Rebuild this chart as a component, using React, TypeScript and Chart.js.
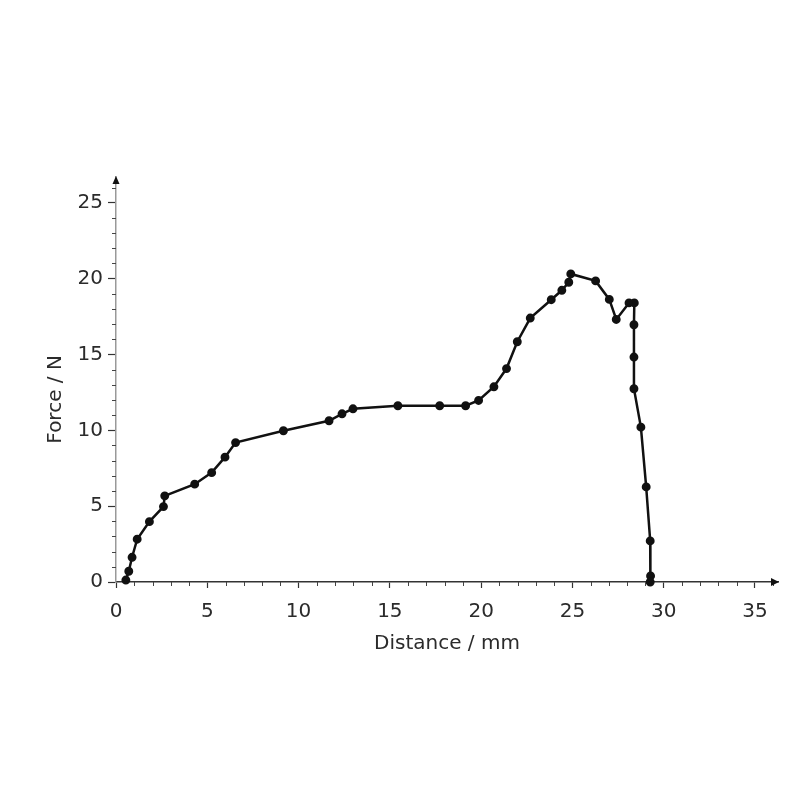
import React, { useEffect, useRef } from "react";
import { Chart, registerables } from "chart.js";

Chart.register(...registerables);

const distanceMm = [
  0.54, 0.7, 0.88, 1.16, 1.83, 2.6, 2.67, 4.31, 5.24, 5.97, 6.55, 9.17,
  11.67, 12.38, 12.98, 15.44, 17.73, 19.15, 19.86, 20.7, 21.39, 21.98, 22.69,
  23.84, 24.42, 24.8, 24.91, 26.27, 27.02, 27.4, 28.1, 28.39, 28.37, 28.37,
  28.37, 28.75, 29.04, 29.26, 29.28, 29.26,
];
const forceN = [
  0.13, 0.71, 1.63, 2.82, 3.98, 4.97, 5.68, 6.45, 7.21, 8.23, 9.19, 9.97,
  10.63, 11.09, 11.42, 11.62, 11.62, 11.62, 11.97, 12.87, 14.07, 15.84, 17.4,
  18.61, 19.23, 19.76, 20.31, 19.85, 18.63, 17.31, 18.4, 18.4, 16.96, 14.83,
  12.74, 10.21, 6.27, 2.71, 0.4, 0.0,
];

const xMajorTicks = [0, 5, 10, 15, 20, 25, 30, 35];
const yMajorTicks = [0, 5, 10, 15, 20, 25];
const xTitle = "Distance / mm";
const yTitle = "Force / N";

const FONT = "'DejaVu Sans', sans-serif";
const TEXT = "#2b2b2b";

const decorPlugin = {
  id: "decor",
  afterDraw(chart: any) {
    const { ctx, chartArea, scales } = chart;
    const xs = scales.x;
    const ys = scales.y;
    ctx.save();
    // minor ticks
    ctx.strokeStyle = "#444";
    ctx.lineWidth = 1;
    for (let v = 0; v <= 36; v++) {
      if (xMajorTicks.includes(v)) continue;
      const px = Math.round(xs.getPixelForValue(v)) + 0.5;
      ctx.beginPath();
      ctx.moveTo(px, chartArea.bottom);
      ctx.lineTo(px, chartArea.bottom + 4);
      ctx.stroke();
    }
    for (let v = 0; v <= 26; v++) {
      if (yMajorTicks.includes(v)) continue;
      const py = Math.round(ys.getPixelForValue(v)) + 0.5;
      ctx.beginPath();
      ctx.moveTo(chartArea.left - 4, py);
      ctx.lineTo(chartArea.left, py);
      ctx.stroke();
    }
    // arrows
    ctx.fillStyle = "#111";
    ctx.beginPath();
    ctx.moveTo(chartArea.left, chartArea.top - 1);
    ctx.lineTo(chartArea.left - 3.5, chartArea.top + 7);
    ctx.lineTo(chartArea.left + 3.5, chartArea.top + 7);
    ctx.closePath();
    ctx.fill();
    ctx.beginPath();
    ctx.moveTo(chartArea.right + 1, chartArea.bottom);
    ctx.lineTo(chartArea.right - 7, chartArea.bottom - 4);
    ctx.lineTo(chartArea.right - 7, chartArea.bottom + 4);
    ctx.closePath();
    ctx.fill();
    // y title
    const yMid = (ys.getPixelForValue(0) + ys.getPixelForValue(25)) / 2 + 7;
    ctx.translate(56, yMid);
    ctx.rotate(-Math.PI / 2);
    ctx.fillStyle = TEXT;
    ctx.font = `20px ${FONT}`;
    ctx.textAlign = "center";
    ctx.textBaseline = "middle";
    ctx.fillText(yTitle, 0, 0);
    ctx.restore();
  },
};

export default function App() {
  const canvasRef = useRef<HTMLCanvasElement | null>(null);

  useEffect(() => {
    if (!canvasRef.current) return;
    const data = distanceMm.map((x, i) => ({ x, y: forceN[i] }));
    const chart = new Chart(canvasRef.current, {
      type: "line",
      data: {
        datasets: [
          {
            data,
            borderColor: "#111",
            backgroundColor: "#111",
            pointBackgroundColor: "#111",
            pointBorderColor: "#111",
            borderWidth: 2.5,
            pointRadius: 3.2,
            tension: 0,
            fill: false,
            clip: false as any,
          },
        ],
      },
      options: {
        animation: false,
        responsive: false,
        layout: { padding: { left: 0, right: 22, top: 177, bottom: 0 } },
        plugins: { legend: { display: false }, tooltip: { enabled: false } },
        scales: {
          x: {
            type: "linear",
            min: 0,
            max: 36.26,
            afterFit: (s: any) => {
              s.height = 218;
            },
            ticks: {
              stepSize: 1,
              autoSkip: false,
              maxRotation: 0,
              padding: 12,
              color: TEXT,
              font: { family: FONT, size: 20 },
              callback: (v: any) => (xMajorTicks.includes(Number(v)) ? String(v) : ""),
            },
            grid: {
              drawOnChartArea: false,
              drawTicks: true,
              tickLength: 6,
              tickWidth: 1.2,
              tickColor: (c: any) =>
                c.tick && xMajorTicks.includes(c.tick.value) ? "#333" : "rgba(0,0,0,0)",
            },
            border: { display: true, color: "#333", width: 1.5 },
            title: {
              display: true,
              text: xTitle,
              color: TEXT,
              font: { family: FONT, size: 20 },
              padding: { top: 0, bottom: 144 },
            },
          },
          y: {
            type: "linear",
            min: 0,
            max: 26.7,
            afterFit: (s: any) => {
              s.width = 116;
            },
            ticks: {
              stepSize: 1,
              autoSkip: false,
              padding: 5,
              color: TEXT,
              font: { family: FONT, size: 20 },
              callback: (v: any) => (yMajorTicks.includes(Number(v)) ? String(v) : ""),
            },
            grid: {
              drawOnChartArea: false,
              drawTicks: true,
              tickLength: 8,
              tickWidth: 1.2,
              tickColor: (c: any) =>
                c.tick && yMajorTicks.includes(c.tick.value) ? "#333" : "rgba(0,0,0,0)",
            },
            border: { display: true, color: "#999", width: 1.5 },
          },
        },
      },
      plugins: [decorPlugin],
    });
    return () => chart.destroy();
  }, []);

  return (
    <div style={{ position: "absolute", left: 0, top: 0, width: 800, height: 800, background: "#fff" }}>
      <canvas ref={canvasRef} width={800} height={800} />
    </div>
  );
}
